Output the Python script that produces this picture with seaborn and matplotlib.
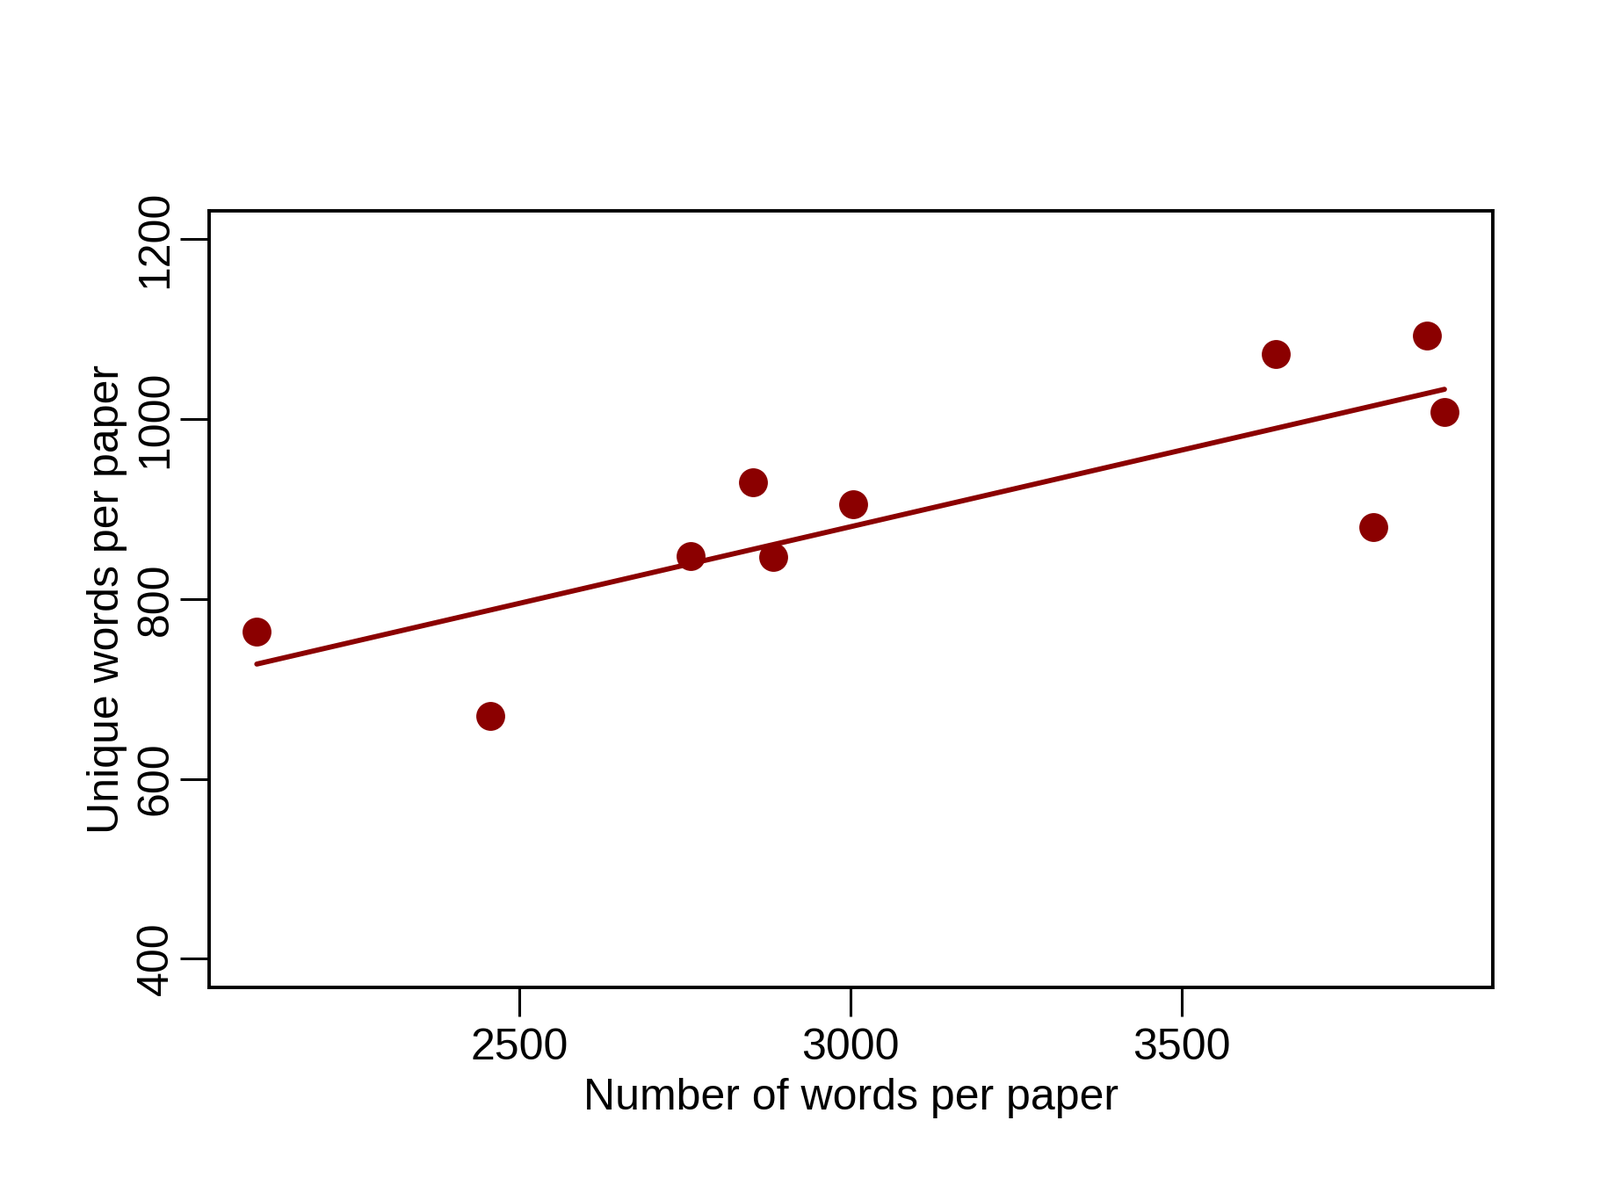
import matplotlib
matplotlib.use("Agg")
import matplotlib.pyplot as plt
import numpy as np
import pandas as pd
import seaborn as sns

# values
words_per_paper = [2104, 2457, 2759, 2853, 2884, 3004, 3642, 3790, 3870, 3897]
unique_words = [764, 670, 848, 930, 847, 905, 1072, 880, 1093, 1008]
x_ticks = [2500, 3000, 3500]
y_ticks = [400, 600, 800, 1000, 1200]

df = pd.DataFrame({'words': words_per_paper, 'unique': unique_words})

sns.set_style('white')
plt.rcParams['font.family'] = ['Liberation Sans', 'DejaVu Sans']

fig = plt.figure(figsize=(18.21, 13.66), dpi=100)
ax = fig.add_axes([0.1307, 0.177, 0.8023, 0.647])

sns.regplot(data=df, x='words', y='unique', ax=ax, ci=None, color='#8B0000',
            scatter_kws={'s': 560, 'alpha': 1, 'linewidths': 0},
            line_kws={'linewidth': 4.2})

ax.set_xlim(2032, 3970)
ax.set_ylim(368, 1231)
ax.set_xticks(x_ticks)
ax.set_yticks(y_ticks)
ax.set_yticklabels([str(v) for v in y_ticks], rotation=90, va='center')

for s in ax.spines.values():
    s.set_visible(True)
    s.set_color('black')
    s.set_linewidth(2.8)

ax.tick_params(axis='both', which='major', direction='out', length=24, width=2.2,
               labelsize=36, color='black', labelcolor='black',
               bottom=True, left=True)
ax.tick_params(axis='x', pad=9)
ax.tick_params(axis='y', pad=3)
ax.set_xlabel('Number of words per paper', fontsize=36, labelpad=8, color='black')
ax.set_ylabel('Unique words per paper', fontsize=36, labelpad=7, color='black')

fig.savefig('out.png', dpi=100, facecolor='white')
